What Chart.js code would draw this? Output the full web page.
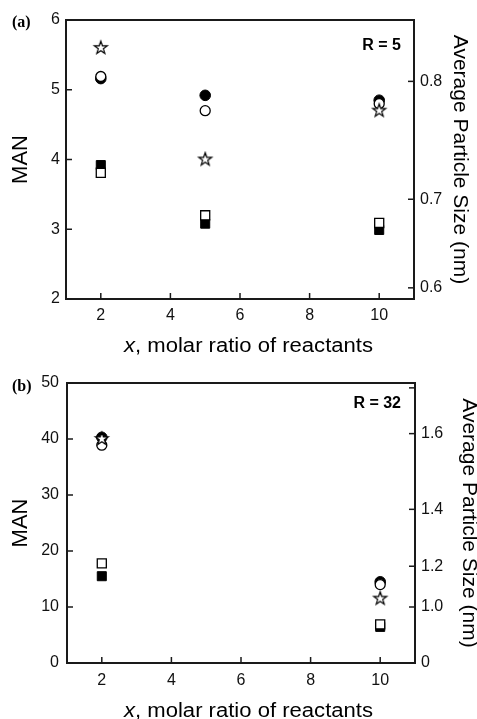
<!DOCTYPE html>
<html>
<head>
<meta charset="utf-8">
<script src="https://cdn.jsdelivr.net/npm/chart.js@4.4.1/dist/chart.umd.min.js"></script>
<style>
  html, body { margin: 0; padding: 0; background: #fff; }
  body { width: 477px; height: 719px; position: relative; overflow: hidden; }
  canvas { position: absolute; left: 0; }
  #chartA { top: 0; }
  #chartB { top: 362px; }
</style>
</head>
<body>
<canvas id="chartA" width="477" height="358" style="width:477px;height:358px"></canvas>
<canvas id="chartB" width="477" height="357" style="width:477px;height:357px"></canvas>
<script>
// x positions and axis ticks
const xTicks = [2, 4, 6, 8, 10];
const xValuesA = [2, 5, 10];
const xValuesB = [2, 10];

// panel (a), R = 5  (values in MAN units, left axis)
const starA = [5.6, 4.0, 4.7];
const openCircleA = [5.19, 4.70, 4.80];
const filledCircleA = [5.16, 4.92, 4.85];
const openSquareA = [3.81, 3.2, 3.09];
const filledSquareA = [3.92, 3.08, 2.99];

// panel (b), R = 32
const starB = [40.0, 11.5];
const openCircleB = [38.9, 14.0];
const filledCircleB = [40.3, 14.5];
const openSquareB = [17.8, 6.9];
const filledSquareB = [15.5, 6.45];

// right axis: average particle size (nm), MAN = 10 * d^3
const sizeTicksA = [0.8, 0.7, 0.6];
const sizeLabelsA = ['0.8', '0.7', '0.6'];
const sizeTicksB = [1.7, 1.6, 1.4, 1.2, 1.0, 0];
const sizeLabelsB = ['', '1.6', '1.4', '1.2', '1.0', '0'];

const FONT = '"Liberation Sans", Arial, Helvetica, sans-serif';
const INK = '#1a1a1a';

function makeStar(outer, inner) {
    const size = Math.ceil(outer * 2 + 4);
    const c = document.createElement('canvas');
    c.width = c.height = size;
    const g = c.getContext('2d');
    g.translate(size / 2, size / 2);
    g.beginPath();
    for (let i = 0; i < 10; i++) {
        const r = i % 2 ? inner : outer;
        const a = -Math.PI / 2 + i * Math.PI / 5;
        g.lineTo(r * Math.cos(a), r * Math.sin(a));
    }
    g.closePath();
    g.fillStyle = '#fff';
    g.fill();
    g.lineWidth = 1.2;
    g.strokeStyle = '#000';
    g.stroke();
    return c;
}
const starImg = makeStar(6.8, 2.7);

const toPoints = (xs, ys) => xs.map((x, i) => ({ x, y: ys[i] }));

// index 0 is drawn on top
function buildDatasets(xs, star, openC, filledC, openS, filledS) {
    return [
        { data: toPoints(xs, star), pointStyle: starImg, pointRadius: 6 },
        { data: toPoints(xs, openC), pointStyle: 'circle', pointRadius: 5, backgroundColor: '#fff', borderColor: '#000', borderWidth: 1.3 },
        { data: toPoints(xs, filledC), pointStyle: 'circle', pointRadius: 5.3, backgroundColor: '#000', borderColor: '#000', borderWidth: 1 },
        { data: toPoints(xs, openS), pointStyle: 'rect', pointRadius: 6.4, backgroundColor: '#fff', borderColor: '#000', borderWidth: 1.3 },
        { data: toPoints(xs, filledS), pointStyle: 'rect', pointRadius: 6.4, backgroundColor: '#000', borderColor: '#000', borderWidth: 1 }
    ];
}

// frame top line, inward tick marks, panel labels and x title
const decorPlugin = {
    id: 'decor',
    beforeDatasetsDraw(chart, args, opts) {
        const { ctx, chartArea: a } = chart;
        const len = 6;
        ctx.save();
        ctx.strokeStyle = INK;
        ctx.lineWidth = 2;
        ctx.beginPath();
        ctx.moveTo(a.left - 1, a.top);
        ctx.lineTo(a.right + 1, a.top);
        ctx.stroke();
        ctx.lineWidth = 1.5;
        ['x', 'y', 'y2'].forEach(id => {
            const s = chart.scales[id];
            s.ticks.forEach(t => {
                const p = s.getPixelForValue(t.value);
                ctx.beginPath();
                if (id === 'x') { ctx.moveTo(p, a.bottom); ctx.lineTo(p, a.bottom - len); }
                else if (id === 'y') { ctx.moveTo(a.left, p); ctx.lineTo(a.left + len, p); }
                else { ctx.moveTo(a.right, p); ctx.lineTo(a.right - len, p); }
                ctx.stroke();
            });
        });
        ctx.restore();
    },
    afterDraw(chart, args, opts) {
        const { ctx } = chart;
        ctx.save();
        ctx.fillStyle = '#000';
        // panel letter
        ctx.font = 'bold 16px "Liberation Serif", "Times New Roman", serif';
        ctx.textBaseline = 'alphabetic';
        ctx.textAlign = 'left';
        ctx.fillText(opts.panel, 12, opts.panelY);
        // R label
        ctx.font = 'bold 16px ' + FONT;
        ctx.textAlign = 'right';
        ctx.textBaseline = 'middle';
        ctx.fillText(opts.rLabel, 401, opts.rY);
        // x axis title with italic x
        ctx.textAlign = 'left';
        ctx.textBaseline = 'alphabetic';
        const italic = 'italic 20px ' + FONT;
        const normal = '20px ' + FONT;
        const rest = ', molar ratio of reactants';
        ctx.font = italic;
        const wx = ctx.measureText('x').width;
        ctx.font = normal;
        const wr = ctx.measureText(rest).width;
        const sx = 249 / (wx + wr);
        ctx.translate(124, opts.xTitleY);
        ctx.scale(sx, 1);
        ctx.font = italic;
        ctx.fillText('x', 0, 0);
        ctx.font = normal;
        ctx.fillText(rest, wx, 0);
        ctx.restore();
    }
};

function makeChart(canvasId, cfg) {
    return new Chart(document.getElementById(canvasId), {
        type: 'scatter',
        data: { datasets: cfg.datasets },
        options: {
            responsive: false,
            animation: false,
            events: [],
            layout: { padding: { top: cfg.padTop, left: 0, right: 0, bottom: 0 } },
            plugins: {
                legend: { display: false },
                tooltip: { enabled: false },
                decor: { panel: cfg.panel, panelY: cfg.panelY, rLabel: cfg.rLabel, rY: cfg.rY, xTitleY: cfg.xTitleY }
            },
            scales: {
                x: {
                    type: 'linear',
                    min: 1,
                    max: 11,
                    afterBuildTicks: s => { s.ticks = xTicks.map(v => ({ value: v })); },
                    afterFit: s => { s.height = cfg.xAxisH; },
                    grid: { display: false, drawTicks: false },
                    border: { display: true, width: 2, color: INK },
                    ticks: { color: '#111', font: { family: FONT, size: 16 }, padding: cfg.xPad, autoSkip: false, maxRotation: 0 }
                },
                y: {
                    type: 'linear',
                    position: 'left',
                    min: cfg.yMin,
                    max: cfg.yMax,
                    afterFit: s => { s.width = cfg.leftW; },
                    grid: { display: false, drawTicks: false },
                    border: { display: true, width: 2, color: INK },
                    ticks: { stepSize: cfg.yStep, color: '#111', font: { family: FONT, size: 16 }, padding: cfg.yPad },
                    title: { display: true, text: 'MAN', color: '#000', font: { family: FONT, size: 22 }, padding: { top: 8 } }
                },
                y2: {
                    type: 'linear',
                    position: 'right',
                    min: cfg.yMin,
                    max: cfg.yMax,
                    afterBuildTicks: s => { s.ticks = cfg.sizeTicks.map(d => ({ value: 10 * d * d * d })); },
                    afterFit: s => { s.width = cfg.rightW; },
                    grid: { display: false, drawTicks: false },
                    border: { display: true, width: 2, color: INK },
                    ticks: {
                        color: '#111', font: { family: FONT, size: 16 }, padding: 6, autoSkip: false,
                        callback: (v, i) => cfg.sizeLabels[i]
                    },
                    title: { display: true, text: 'Average Particle Size (nm)', color: '#000', font: { family: FONT, size: 21 }, padding: { top: cfg.rightTitlePad } }
                }
            }
        },
        plugins: [decorPlugin]
    });
}

makeChart('chartA', {
    datasets: buildDatasets(xValuesA, starA, openCircleA, filledCircleA, openSquareA, filledSquareA),
    padTop: 20, xAxisH: 59, leftW: 66, rightW: 63,
    yMin: 2, yMax: 6, yStep: 1, xPad: 7, yPad: 6,
    sizeTicks: sizeTicksA, sizeLabels: sizeLabelsA, rightTitlePad: 5,
    panel: '(a)', panelY: 27, rLabel: 'R = 5', rY: 46, xTitleY: 351.5
});

makeChart('chartB', {
    datasets: buildDatasets(xValuesB, starB, openCircleB, filledCircleB, openSquareB, filledSquareB),
    padTop: 21, xAxisH: 56, leftW: 67, rightW: 62,
    yMin: 0, yMax: 50, yStep: 10, xPad: 8, yPad: 8,
    sizeTicks: sizeTicksB, sizeLabels: sizeLabelsB, rightTitlePad: -4,
    panel: '(b)', panelY: 29, rLabel: 'R = 32', rY: 41.5, xTitleY: 354.5
});
</script>
</body>
</html>
